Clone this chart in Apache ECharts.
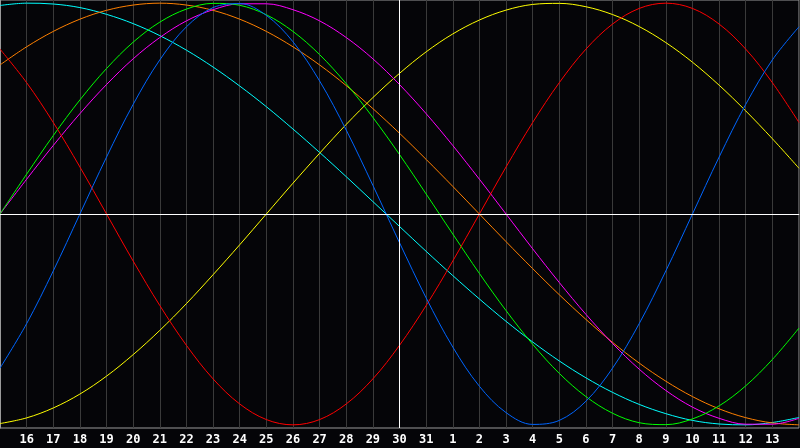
<!DOCTYPE html>
<html>
<head>
<meta charset="utf-8">
<style>
html,body{margin:0;padding:0;background:#050508;}
#chart{width:800px;height:448px;}
</style>
<script src="https://cdn.jsdelivr.net/npm/echarts@6/dist/echarts.min.js"></script>
</head>
<body>
<div id="chart"></div>
<script>
// day labels for positions 0..30
const dayLabels = ['15','16','17','18','19','20','21','22','23','24','25','26','27','28','29','30','31','1','2','3','4','5','6','7','8','9','10','11','12','13','14'];

const physical = [-0.731,-0.520,-0.270,0,0.270,0.520,0.731,0.888,0.979,0.998,0.942,0.817,0.631,0.398,0.136,-0.136,-0.398,-0.631,-0.817,-0.942,-0.998,-0.979,-0.888,-0.731,-0.520,-0.270,0,0.270,0.520,0.731,0.888];
const emotional = [0.782,0.623,0.434,0.223,0,-0.223,-0.434,-0.623,-0.782,-0.901,-0.975,-1.000,-0.975,-0.901,-0.782,-0.623,-0.434,-0.223,0,0.223,0.434,0.623,0.782,0.901,0.975,1.000,0.975,0.901,0.782,0.623,0.434];
const intellectual = [0,0.189,0.372,0.541,0.690,0.815,0.910,0.972,0.999,0.990,0.945,0.866,0.756,0.618,0.458,0.282,0.095,-0.095,-0.282,-0.458,-0.618,-0.756,-0.866,-0.945,-0.990,-0.999,-0.972,-0.910,-0.815,-0.690,-0.541];
const intuitive = [0,0.165,0.325,0.476,0.614,0.736,0.837,0.916,0.969,0.997,0.997,0.969,0.916,0.837,0.736,0.614,0.476,0.325,0.165,0,-0.165,-0.325,-0.476,-0.614,-0.736,-0.837,-0.916,-0.969,-0.997,-0.997,-0.969];
const aesthetic = [-0.994,-0.967,-0.920,-0.854,-0.769,-0.667,-0.552,-0.425,-0.288,-0.146,0,0.146,0.288,0.425,0.552,0.667,0.769,0.854,0.920,0.967,0.994,0.999,0.983,0.946,0.889,0.813,0.720,0.611,0.489,0.357,0.217];
const awareness = [0.707,0.793,0.866,0.924,0.966,0.991,1.000,0.991,0.966,0.924,0.866,0.793,0.707,0.609,0.500,0.383,0.259,0.131,0,-0.131,-0.259,-0.383,-0.500,-0.609,-0.707,-0.793,-0.866,-0.924,-0.966,-0.991,-1.000];
const spiritual = [0.989,1.000,0.996,0.979,0.947,0.903,0.846,0.777,0.697,0.607,0.509,0.403,0.292,0.177,0.059,-0.059,-0.177,-0.292,-0.403,-0.509,-0.607,-0.697,-0.777,-0.846,-0.903,-0.947,-0.979,-0.996,-1.000,-0.989,-0.965];

const seriesDefs = [
  {name:'Spiritual', data:spiritual, color:'#00ffff'},
  {name:'Awareness', data:awareness, color:'#ff8000'},
  {name:'Aesthetic', data:aesthetic, color:'#ffff00'},
  {name:'Intuitive', data:intuitive, color:'#ff00ff'},
  {name:'Intellectual', data:intellectual, color:'#00ff00'},
  {name:'Emotional', data:emotional, color:'#ff0000'},
  {name:'Physical', data:physical, color:'#0066ff'}
];

const chart = echarts.init(document.getElementById('chart'), null, {renderer:'canvas'});
const series = seriesDefs.map(s => ({
  name: s.name,
  type: 'line',
  data: s.data.map((v,i) => [i, v]),
  smooth: 0.35,
  symbol: 'none',
  lineStyle: {color: s.color, width: 1},
  itemStyle: {color: s.color},
  animation: false,
  z: 3
}));
series.push({
  type: 'line',
  data: [],
  markLine: {
    silent: true,
    symbol: 'none',
    label: {show: false},
    lineStyle: {color: '#ffffff', width: 1, type: 'solid'},
    data: [{xAxis: 15}, {yAxis: 0}]
  },
  z: 2,
  animation: false
});

chart.setOption({
  backgroundColor: '#050508',
  animation: false,
  grid: {left: 0, right: 1, top: 0, bottom: 20, show: true, borderColor: '#9a9a9a', borderWidth: 1, backgroundColor: 'transparent'},
  xAxis: {
    type: 'value', min: 0, max: 30, interval: 1,
    axisLine: {show: true, lineStyle: {color: '#9a9a9a'}},
    axisTick: {show: false},
    splitLine: {show: true, lineStyle: {color: '#3a3a3a', width: 1}},
    axisLabel: {
      color: '#ffffff', fontFamily: 'DejaVu Sans Mono', fontWeight: 'bold', fontSize: 12, margin: 6,
      showMinLabel: false, showMaxLabel: false,
      formatter: v => dayLabels[Math.round(v)] || ''
    }
  },
  yAxis: {
    type: 'value', min: -1.015, max: 1.015,
    axisLine: {show: true, onZero: false, lineStyle: {color: '#9a9a9a'}},
    axisTick: {show: false},
    axisLabel: {show: false},
    splitLine: {show: false}
  },
  series: series
});
</script>
</body>
</html>
